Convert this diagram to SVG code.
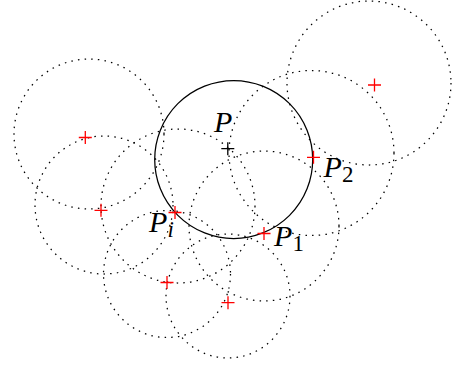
<svg xmlns="http://www.w3.org/2000/svg" xmlns:xlink="http://www.w3.org/1999/xlink" width="459" height="367" viewBox="0 0 459 367">
  <style>
    .dot { fill: none; stroke: #000; stroke-width: 1.25; stroke-dasharray: 1.5 5.2; }
    .solid { fill: none; stroke: #000; stroke-width: 1.25; }
    .lbl { font-family: "Liberation Serif", "DejaVu Serif", serif; font-style: italic; fill: #000; }
    .big { font-size: 30px; }
    .sub { font-size: 23px; }
    .sub-up { font-style: normal; }
  </style>
  <defs>
    <path id="cross" d="M-6.5,0H6.5M0,-6.5V6.5" fill="none" stroke-width="1.3"/>
  </defs>
  <rect width="459" height="367" fill="#fff"/>

  <g id="circles">
    <circle id="circle-a" class="dot" cx="89" cy="134" r="75"/>
    <circle id="circle-b" class="dot" cx="104" cy="205" r="69"/>
    <circle id="circle-c" class="dot" cx="178" cy="206" r="77"/>
    <circle id="circle-d" class="dot" cx="167" cy="274" r="63.5"/>
    <circle id="circle-e" class="dot" cx="228" cy="296" r="62"/>
    <circle id="circle-f" class="dot" cx="264" cy="226" r="75"/>
    <circle id="circle-g" class="dot" cx="311.5" cy="153" r="82.5"/>
    <circle id="circle-h" class="dot" cx="369" cy="83" r="82"/>
    <circle id="circle-main" class="solid" cx="233.7" cy="159.5" r="79"/>
  </g>

  <g id="connectors"></g>

  <g id="point-p">
    <use xlink:href="#cross" x="227.8" y="148.7" stroke="#000"/>
    <text class="lbl big" x="214" y="131.5">P</text>
  </g>
  <g id="point-pi">
    <use xlink:href="#cross" x="175" y="212.5" stroke="#ff0000"/>
    <text class="lbl big" x="149" y="231.5">P</text>
    <text class="lbl sub" x="167.6" y="237">i</text>
  </g>
  <g id="point-p1">
    <use xlink:href="#cross" x="264" y="233.5" stroke="#ff0000"/>
    <text class="lbl big" x="274" y="246">P</text>
    <text class="lbl sub sub-up" x="292.6" y="251">1</text>
  </g>
  <g id="point-p2">
    <use xlink:href="#cross" x="313.5" y="157.3" stroke="#ff0000"/>
    <text class="lbl big" x="323.5" y="177">P</text>
    <text class="lbl sub sub-up" x="342" y="181.5">2</text>
  </g>
  <g id="point-a">
    <use xlink:href="#cross" x="85.3" y="137.5" stroke="#ff0000"/>
  </g>
  <g id="point-b">
    <use xlink:href="#cross" x="101" y="210.3" stroke="#ff0000"/>
  </g>
  <g id="point-d">
    <use xlink:href="#cross" x="167" y="282.5" stroke="#ff0000"/>
  </g>
  <g id="point-e">
    <use xlink:href="#cross" x="228" y="302.7" stroke="#ff0000"/>
  </g>
  <g id="point-h">
    <use xlink:href="#cross" x="374.5" y="85" stroke="#ff0000"/>
  </g>
</svg>
